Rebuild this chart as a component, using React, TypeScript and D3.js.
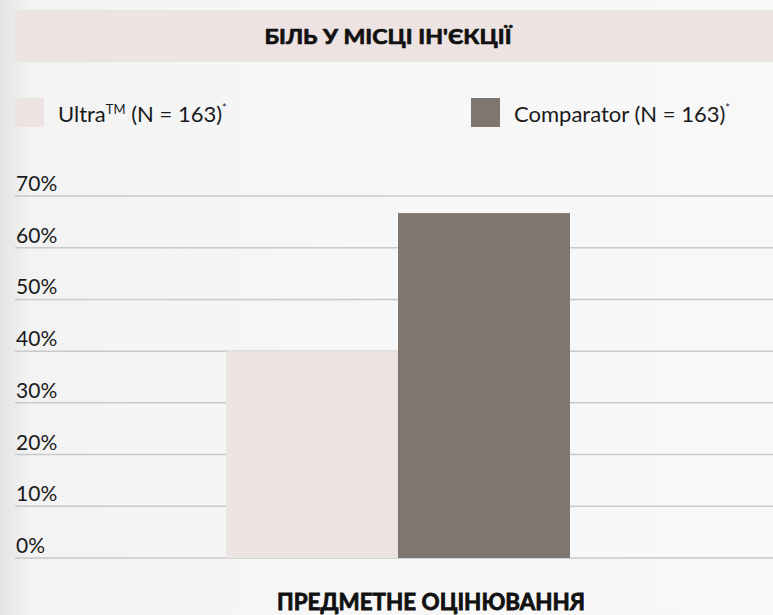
import React from "react";
import * as d3 from "d3";

const categories = ["Ultra", "Comparator"];
const values = [40, 66.7];
const colors = ["#ece3e2", "#7f7670"];
const legendLabels = ["Ultra", "Comparator"];
const legendN = ["(N = 163)", "(N = 163)"];
const yTicks = [0, 10, 20, 30, 40, 50, 60, 70];
const title = "БІЛЬ У МІСЦІ ІН'ЄКЦІЇ";
const xLabel = "ПРЕДМЕТНЕ ОЦІНЮВАННЯ";

const W = 773;
const H = 615;
const FONT = "Lato, 'Open Sans', sans-serif";

export default function App() {
  const y = d3.scaleLinear().domain([0, 70]).range([558, 196]);
  const x = d3.scaleBand().domain(categories).range([226, 570]).padding(0);

  return (
    <svg
      width={W}
      height={H}
      style={{ position: "absolute", left: 0, top: 0, display: "block" }}
      fontFamily={FONT}
    >
      <defs>
        <linearGradient id="bg" x1="0" x2="1" y1="0" y2="0">
          <stop offset="0" stopColor="#e4e4e4" />
          <stop offset="0.04" stopColor="#f3f3f3" />
          <stop offset="0.5" stopColor="#f7f7f7" />
          <stop offset="1" stopColor="#f8f8f8" />
        </linearGradient>
      </defs>
      <rect x={0} y={0} width={W} height={H} fill="url(#bg)" />

      {/* title band */}
      <rect x={15} y={10} width={W - 15} height={52} fill="#ece3e2" />
      <text
        x={388}
        y={44}
        textAnchor="middle"
        fontFamily="Lato, 'DejaVu Sans', sans-serif"
        fontWeight={700}
        fontSize={20}
        fill="#111"
        stroke="#111"
        strokeWidth={0.7}
        textLength={247}
        lengthAdjust="spacingAndGlyphs"
      >
        {title}
      </text>

      {/* legend */}
      {legendLabels.map((l, i) => {
        const lx = i === 0 ? 15 : 471;
        return (
          <g key={l}>
            <rect x={lx} y={98} width={29} height={29} fill={colors[i]} />
            <text x={lx + 43} y={122} fontSize={22} fill="#1a1a1a">
              {l}
              {i === 0 ? (
                <tspan fontSize={13} dy={-8}>
                  TM
                </tspan>
              ) : null}
              <tspan dy={i === 0 ? 8 : 0}> {legendN[i]}</tspan>
              <tspan fontSize={11} dy={-10}>
                *
              </tspan>
            </text>
          </g>
        );
      })}

      {/* gridlines */}
      {yTicks.map((t) => (
        <g key={t}>
          <line
            x1={15}
            x2={W}
            y1={y(t)}
            y2={y(t)}
            stroke="#c9c9c9"
            strokeWidth={1.5}
          />
          <text x={16} y={y(t) - 5} fontSize={21} fill="#1a1a1a">
            {t}%
          </text>
        </g>
      ))}

      {/* bars */}
      {categories.map((c, i) => (
        <rect
          key={c}
          x={x(c)}
          y={y(values[i])}
          width={x.bandwidth()}
          height={y(0) - y(values[i])}
          fill={colors[i]}
        />
      ))}

      {/* x label */}
      <text
        x={431}
        y={610}
        textAnchor="middle"
        fontFamily="Lato, 'DejaVu Sans', sans-serif"
        fontWeight={700}
        fontSize={22}
        fill="#111"
        stroke="#111"
        strokeWidth={0.8}
        textLength={308}
        lengthAdjust="spacingAndGlyphs"
      >
        {xLabel}
      </text>
    </svg>
  );
}
